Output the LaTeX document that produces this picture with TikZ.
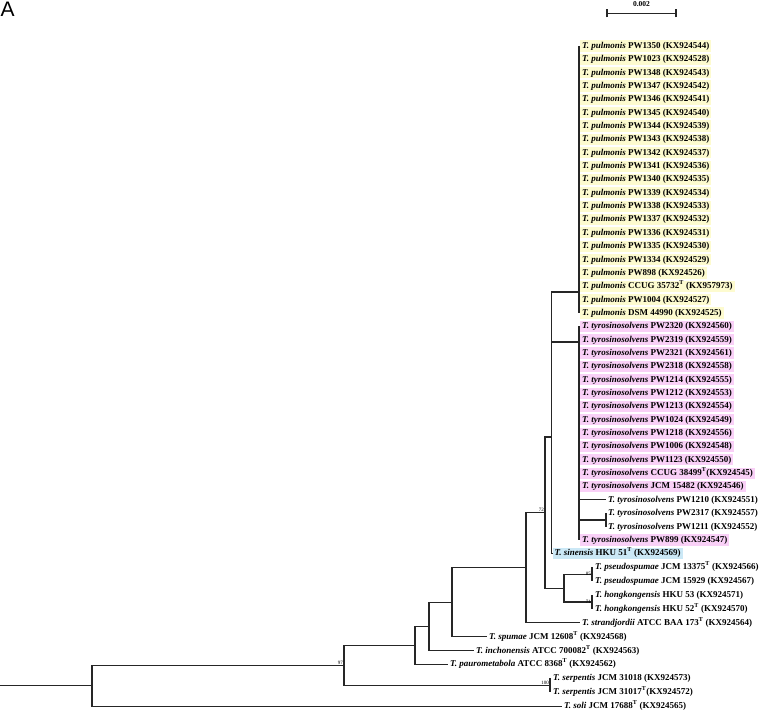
\documentclass[tikz,border=0pt]{standalone}
\usepackage{fontspec}
\setmainfont{Liberation Serif}
\newfontfamily\sansA{Liberation Sans}
\definecolor{cyel}{HTML}{FDFBCF}
\definecolor{cpink}{HTML}{F9D0F7}
\definecolor{cblue}{HTML}{CBE8F6}
\newcommand\lf{\fontsize{9}{10}\selectfont\bfseries}
\newcommand\bsf{\fontsize{5}{6}\selectfont}
\newcommand\Tp{\textit{T. pulmonis}}
\newcommand\Tt{\textit{T. tyrosinosolvens}}
\newcommand\Ty{\textsuperscript{T}}
\tikzset{
  lbl/.style={anchor=west, font=\lf, inner xsep=2pt, inner ysep=1pt, text height=7pt, text depth=2.2pt},
  yel/.style={lbl, fill=cyel},
  pnk/.style={lbl, fill=cpink},
  blu/.style={lbl, fill=cblue},
  br/.style={line width=1.1pt, draw=black!85},
  bs/.style={font=\bsf, inner sep=0pt}
}
\begin{document}
\begin{tikzpicture}[x=1pt,y=-1pt]
\useasboundingbox (0,0) rectangle (760,711);
\node[anchor=north west, inner sep=0pt, font=\sansA\fontsize{21}{24}\selectfont] (lab) at (0.5,1.7) {A};
% scale bar
\coordinate (sb1) at (607,13.3);
\coordinate (sb2) at (676,13.3);
\draw[br] (sb1) -- (sb2);
\draw[br] ([yshift=-4pt]sb1) -- ([yshift=4pt]sb1);
\draw[br] ([yshift=-4pt]sb2) -- ([yshift=4pt]sb2);
\node[font=\fontsize{7.5}{8}\selectfont\bfseries, inner sep=0pt, anchor=south] (sbt) at (641.5,6.5) {0.002};
% pulmonis
\node[yel] (p0) at (580,46) {\Tp{} PW1350 (KX924544)};
\node[yel] (p1) at (580,59.35) {\Tp{} PW1023 (KX924528)};
\node[yel] (p2) at (580,72.7) {\Tp{} PW1348 (KX924543)};
\node[yel] (p3) at (580,86.05) {\Tp{} PW1347 (KX924542)};
\node[yel] (p4) at (580,99.4) {\Tp{} PW1346 (KX924541)};
\node[yel] (p5) at (580,112.75) {\Tp{} PW1345 (KX924540)};
\node[yel] (p6) at (580,126.1) {\Tp{} PW1344 (KX924539)};
\node[yel] (p7) at (580,139.45) {\Tp{} PW1343 (KX924538)};
\node[yel] (p8) at (580,152.8) {\Tp{} PW1342 (KX924537)};
\node[yel] (p9) at (580,166.15) {\Tp{} PW1341 (KX924536)};
\node[yel] (p10) at (580,179.5) {\Tp{} PW1340 (KX924535)};
\node[yel] (p11) at (580,192.85) {\Tp{} PW1339 (KX924534)};
\node[yel] (p12) at (580,206.2) {\Tp{} PW1338 (KX924533)};
\node[yel] (p13) at (580,219.55) {\Tp{} PW1337 (KX924532)};
\node[yel] (p14) at (580,232.9) {\Tp{} PW1336 (KX924531)};
\node[yel] (p15) at (580,246.25) {\Tp{} PW1335 (KX924530)};
\node[yel] (p16) at (580,259.6) {\Tp{} PW1334 (KX924529)};
\node[yel] (p17) at (580,272.95) {\Tp{} PW898 (KX924526)};
\node[yel] (p18) at (580,286.3) {\Tp{} CCUG 35732\Ty{} (KX957973)};
\node[yel] (p19) at (580,299.65) {\Tp{} PW1004 (KX924527)};
\node[yel] (p20) at (580,313) {\Tp{} DSM 44990 (KX924525)};
% tyrosinosolvens
\node[pnk] (t0) at (580,326.35) {\Tt{} PW2320 (KX924560)};
\node[pnk] (t1) at (580,339.7) {\Tt{} PW2319 (KX924559)};
\node[pnk] (t2) at (580,353.05) {\Tt{} PW2321 (KX924561)};
\node[pnk] (t3) at (580,366.4) {\Tt{} PW2318 (KX924558)};
\node[pnk] (t4) at (580,379.75) {\Tt{} PW1214 (KX924555)};
\node[pnk] (t5) at (580,393.1) {\Tt{} PW1212 (KX924553)};
\node[pnk] (t6) at (580,406.45) {\Tt{} PW1213 (KX924554)};
\node[pnk] (t7) at (580,419.8) {\Tt{} PW1024 (KX924549)};
\node[pnk] (t8) at (580,433.15) {\Tt{} PW1218 (KX924556)};
\node[pnk] (t9) at (580,446.5) {\Tt{} PW1006 (KX924548)};
\node[pnk] (t10) at (580,459.85) {\Tt{} PW1123 (KX924550)};
\node[pnk] (t11) at (580,473.2) {\Tt{} CCUG 38499\Ty(KX924545)};
\node[pnk] (t12) at (580,486.55) {\Tt{} JCM 15482 (KX924546)};
\node[lbl] (t13) at (606,499.9) {\Tt{} PW1210 (KX924551)};
\node[lbl] (t14) at (606,513.25) {\Tt{} PW2317 (KX924557)};
\node[lbl] (t15) at (606,526.6) {\Tt{} PW1211 (KX924552)};
\node[pnk] (t16) at (580,539.95) {\Tt{} PW899 (KX924547)};
% others
\node[blu] (sin) at (552.5,553.3) {\textit{T. sinensis} HKU 51\Ty{} (KX924569)};
\node[lbl] (ps0) at (593,567.2) {\textit{T. pseudospumae} JCM 13375\Ty{} (KX924566)};
\node[lbl] (ps1) at (593,581.1) {\textit{T. pseudospumae} JCM 15929 (KX924567)};
\node[lbl] (hk0) at (593,595) {\textit{T. hongkongensis} HKU 53 (KX924571)};
\node[lbl] (hk1) at (593,608.9) {\textit{T. hongkongensis} HKU 52\Ty{} (KX924570)};
\node[lbl] (str) at (580,622.8) {\textit{T. strandjordii} ATCC BAA 173\Ty{} (KX924564)};
\node[lbl] (spu) at (487,636.7) {\textit{T. spumae} JCM 12608\Ty{} (KX924568)};
\node[lbl] (inc) at (474,650.6) {\textit{T. inchonensis} ATCC 700082\Ty{} (KX924563)};
\node[lbl] (pau) at (448,664.4) {\textit{T. paurometabola} ATCC 8368\Ty{} (KX924562)};
\node[lbl] (se0) at (551,678.3) {\textit{T. serpentis} JCM 31018 (KX924573)};
\node[lbl] (se1) at (551,692.2) {\textit{T. serpentis} JCM 31017\Ty(KX924572)};
\node[lbl] (sol) at (562,706.1) {\textit{T. soli} JCM 17688\Ty{} (KX924565)};
% internal nodes
\coordinate (nP) at (579,292);
\coordinate (nT) at (579,342);
\coordinate (nPT) at (551.5,317);
\coordinate (nPTS) at (551.5,437);
\coordinate (n72) at (545,512.5);
\coordinate (nPH) at (564,588.1);
\coordinate (nPs) at (592,574.2);
\coordinate (nH) at (592,602);
\coordinate (nT2) at (606,520);
\coordinate (n526) at (526,567.7);
\coordinate (n452) at (452,602.2);
\coordinate (n429) at (429,626.4);
\coordinate (n415) at (415,645.4);
\coordinate (n97) at (344,665.3);
\coordinate (nS) at (550,685.25);
\coordinate (n92) at (92,685.7);
\coordinate (root) at (0,685.7);
% branches
\draw[br] (root) -- (n92);
\draw[br] (n92) |- (n97);
\draw[br] (n92) |- (sol.west);
\draw[br] (n97) |- (n415);
\draw[br] (n97) |- (nS);
\draw[br] (nS |- se0.west) -- (nS |- se1.west);
\draw[br] (n415) |- (n429);
\draw[br] (n415) |- (pau.west);
\draw[br] (n429) |- (n452);
\draw[br] (n429) |- (inc.west);
\draw[br] (n452) |- (n526);
\draw[br] (n452) |- (spu.west);
\draw[br] (n526) |- (n72);
\draw[br] (n526) |- (str.west);
\draw[br] (n72) |- (nPTS);
\draw[br] (n72) |- (nPH);
\draw[br] (nPH) |- (nPs);
\draw[br] (nPH) |- (nH);
\draw[br] (nPs |- ps0.west) -- (nPs |- ps1.west);
\draw[br] (nH |- hk0.west) -- (nH |- hk1.west);
\draw[br] (nPTS) |- (sin.west);
\draw[br] (nPTS) -- (nPT);
\draw[br] (nPT) |- (nP);
\draw[br] (nPT) |- (nT);
\draw[br] (nP |- p0.west) -- (nP |- p20.west);
\draw[br] (nT |- t0.west) -- (nT |- t16.west);
\draw[br] (nT |- t13.west) -- (t13.west);
\draw[br] (nT |- nT2) -- (nT2);
\draw[br] (nT2 |- t14.west) -- (nT2 |- t15.west);
% bootstrap values
\node[bs, anchor=south east] (b72) at (544,512) {72};
\node[bs, anchor=south east] (b85) at (591,576) {85};
\node[bs, anchor=south east] (b71) at (591,603.5) {71};
\node[bs, anchor=south east] (b97) at (343,665) {97};
\node[bs, anchor=south east] (b100) at (549,685) {100};
\end{tikzpicture}
\end{document}
